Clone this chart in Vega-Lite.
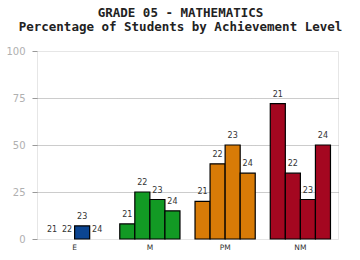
{
  "$schema": "https://vega.github.io/schema/vega-lite/v6.json",
  "autosize": "none",
  "width": 301,
  "height": 188,
  "padding": {"left": 37, "top": 51, "right": 22, "bottom": 21},
  "background": "white",
  "title": {
    "text": ["GRADE 05 - MATHEMATICS", "Percentage of Students by Achievement Level"],
    "font": "DejaVu Sans Mono",
    "fontSize": 12.5,
    "fontWeight": "bold",
    "color": "#222",
    "lineHeight": 13.5,
    "anchor": "middle",
    "dx": -7,
    "offset": 13
  },
  "data": {
    "values": [
      {"level": "E", "year": "21", "pct": 0},
      {"level": "E", "year": "22", "pct": 0},
      {"level": "E", "year": "23", "pct": 7},
      {"level": "E", "year": "24", "pct": 0},
      {"level": "M", "year": "21", "pct": 8},
      {"level": "M", "year": "22", "pct": 25},
      {"level": "M", "year": "23", "pct": 21},
      {"level": "M", "year": "24", "pct": 15},
      {"level": "PM", "year": "21", "pct": 20},
      {"level": "PM", "year": "22", "pct": 40},
      {"level": "PM", "year": "23", "pct": 50},
      {"level": "PM", "year": "24", "pct": 35},
      {"level": "NM", "year": "21", "pct": 72},
      {"level": "NM", "year": "22", "pct": 35},
      {"level": "NM", "year": "23", "pct": 21},
      {"level": "NM", "year": "24", "pct": 50}
    ]
  },
  "encoding": {
    "x": {
      "field": "level", "type": "nominal", "sort": ["E", "M", "PM", "NM"],
      "scale": {"paddingInner": 0, "paddingOuter": 0},
      "axis": {
        "title": null, "labelAngle": 0, "ticks": false, "domain": false,
        "labelFont": "DejaVu Sans", "labelFontSize": 7.5, "labelColor": "#333",
        "labelPadding": 4, "labelDx": 2
      }
    },
    "xOffset": {
      "field": "year", "type": "nominal",
      "scale": {"paddingInner": 0, "paddingOuter": 0.5}
    },
    "y": {
      "field": "pct", "type": "quantitative",
      "scale": {"domain": [0, 100]},
      "axis": {
        "title": null, "values": [0, 25, 50, 75, 100], "domain": false,
        "labelFont": "DejaVu Sans", "labelFontSize": 10, "labelColor": "#b0b0b0",
        "tickColor": "#999", "tickSize": 5, "labelPadding": 7,
        "gridColor": {"condition": {"test": "datum.value == 0 || datum.value == 100", "value": "#e6e6e6"}, "value": "#999"},
        "gridDash": {"condition": {"test": "datum.value == 0 || datum.value == 100", "value": []}, "value": [1, 1]}
      }
    }
  },
  "layer": [
    {
      "transform": [{"filter": "datum.pct > 0"}],
      "mark": {"type": "bar", "stroke": "black", "strokeWidth": 1.2},
      "encoding": {
        "color": {
          "field": "level", "type": "nominal",
          "scale": {"domain": ["E", "M", "PM", "NM"], "range": ["#0b4592", "#129a24", "#d87b07", "#a40720"]},
          "legend": null
        }
      }
    },
    {
      "mark": {"type": "text", "dy": -9, "font": "DejaVu Sans", "fontSize": 8, "color": "#333", "baseline": "middle"},
      "encoding": {"text": {"field": "year"}}
    }
  ],
  "config": {
    "view": {"stroke": "#e6e6e6"}
  }
}
